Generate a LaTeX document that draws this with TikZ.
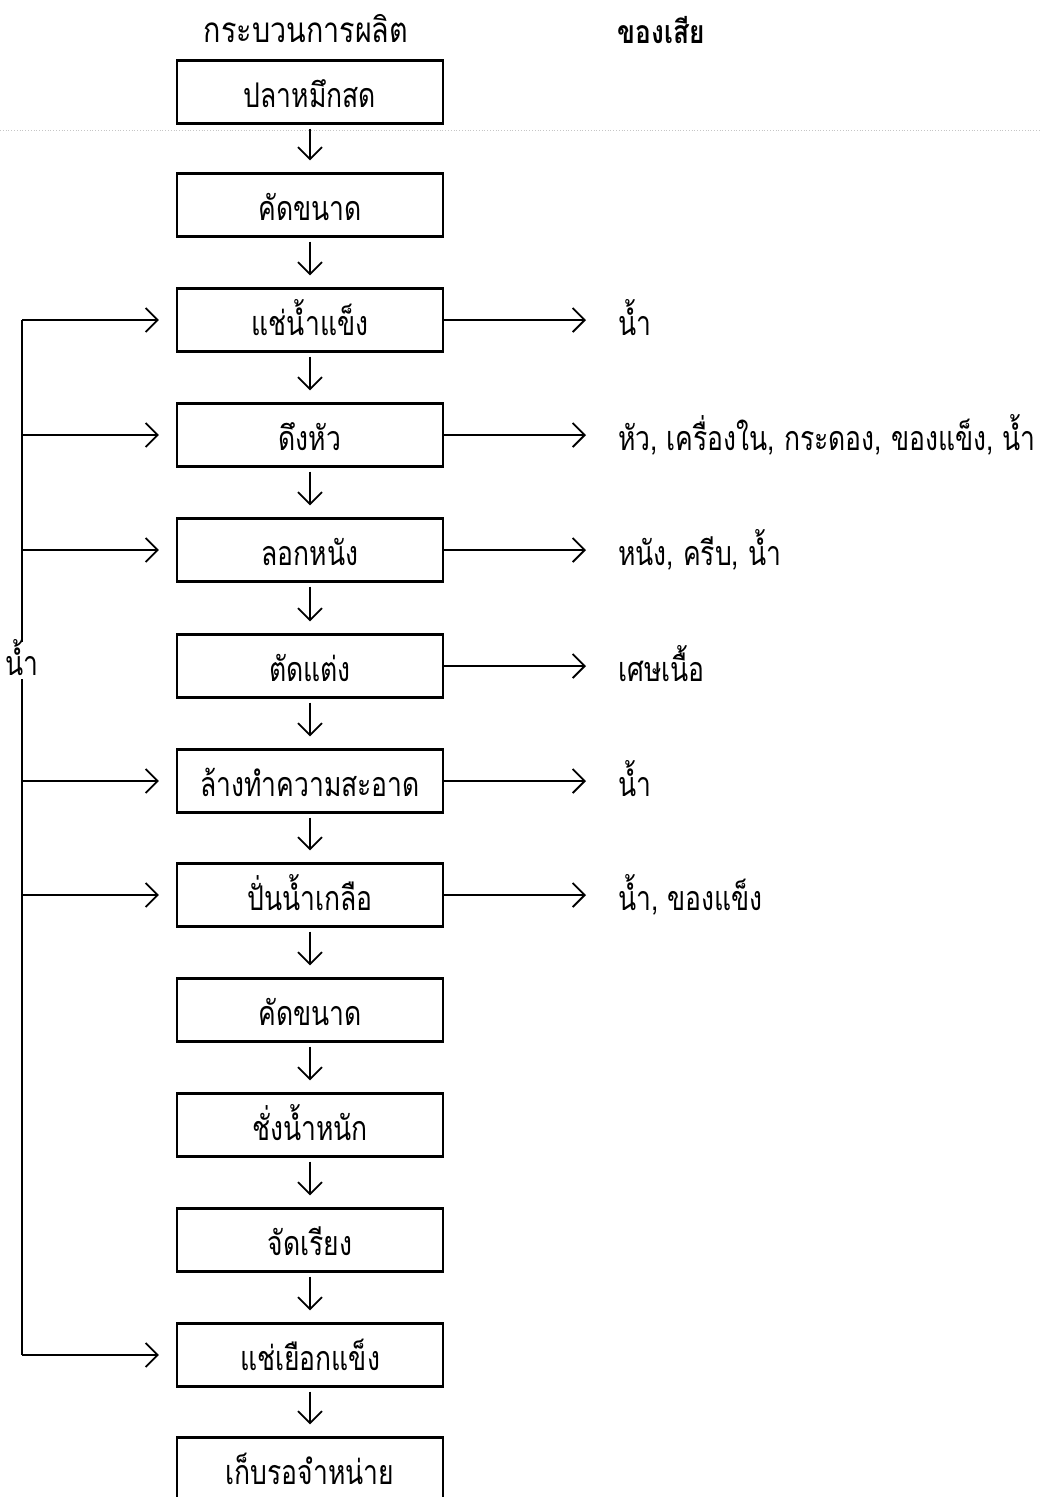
\documentclass[tikz,border=0pt]{standalone}
\usepackage{fontspec}
\newfontfamily\thai[Script=Thai, FakeStretch=0.78]{Loma}
\newfontfamily\thaihead[Script=Thai, FakeStretch=0.82]{Loma}
\usetikzlibrary{arrows.meta}
\begin{document}
\begin{tikzpicture}[x=1pt,y=-1pt,
  thaitext/.style={font=\thai\fontsize{34}{40}\selectfont, text height=31pt, text depth=0pt, inner sep=0pt},
  proc/.style={thaitext, draw, line width=2.2pt, minimum width=266pt, minimum height=63pt},
  waste/.style={thaitext, anchor=west},
  wire/.style={line width=1.8pt},
  flow/.style={line width=1.8pt, -{Straight Barb[length=12pt,width=24pt,line width=1.8pt]}},
  head/.style={font=\thaihead\fontsize{35}{40}\selectfont, inner sep=0pt}
]
\path[use as bounding box, clip] (0,0) rectangle (1041,1497);
\fill[white] (0,0) rectangle (1041,1497);
\draw[gray!45, dotted, line width=0.8pt] (0,130) -- (1041,130);

\node[head] (h1) at (306,29) {กระบวนการผลิต};
\node[head, font=\thaihead\bfseries\fontsize{32}{38}\selectfont] (h2) at (661,30) {ของเสีย};

\node[proc] (b1) at (310,92) {ปลาหมึกสด};
\node[proc] (b2) at (310,205) {คัดขนาด};
\node[proc] (b3) at (310,320) {แช่น้ำแข็ง};
\node[proc] (b4) at (310,435) {ดึงหัว};
\node[proc] (b5) at (310,550) {ลอกหนัง};
\node[proc] (b6) at (310,666) {ตัดแต่ง};
\node[proc] (b7) at (310,781) {ล้างทำความสะอาด};
\node[proc] (b8) at (310,895) {ปั่นน้ำเกลือ};
\node[proc] (b9) at (310,1010) {คัดขนาด};
\node[proc] (b10) at (310,1125) {ชั่งน้ำหนัก};
\node[proc] (b11) at (310,1240) {จัดเรียง};
\node[proc] (b12) at (310,1355) {แช่เยือกแข็ง};
\node[proc] (b13) at (310,1469) {เก็บรอจำหน่าย};

\foreach \a/\b in {b1/b2,b2/b3,b3/b4,b4/b5,b5/b6,b6/b7,b7/b8,b8/b9,b9/b10,b10/b11,b11/b12,b12/b13}
  \draw[flow] ([yshift=-4pt]\a.south) -- ([yshift=12pt]\b.north);

% waste outputs
\node[waste] (w3) at (618,320) {น้ำ};
\node[waste] (w4) at (618,435) {หัว, เครื่องใน, กระดอง, ของแข็ง, น้ำ};
\node[waste] (w5) at (618,550) {หนัง, ครีบ, น้ำ};
\node[waste] (w6) at (618,666) {เศษเนื้อ};
\node[waste] (w7) at (618,781) {น้ำ};
\node[waste] (w8) at (618,895) {น้ำ, ของแข็ง};
\foreach \n in {3,4,5,6,7,8}
  \draw[flow] (b\n.east) -- ([xshift=-32pt]w\n.west);

% water supply bus
\coordinate (bus) at (22,0);
\foreach \n in {3,4,5,7,8,12}
  \coordinate (l\n) at (bus |- b\n.west);
\draw[wire] (l3) -- (l12);
\foreach \n in {3,4,5,7,8,12}
  \draw[flow] (l\n) -- ([xshift=-17pt]b\n.west);
\node[thaitext, fill=white, inner ysep=3pt] (wl) at (22,660) {น้ำ};
\end{tikzpicture}
\end{document}
